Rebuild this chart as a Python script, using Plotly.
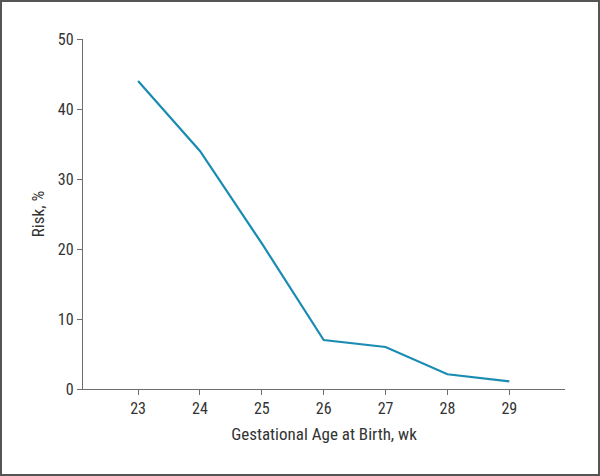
import plotly.graph_objects as go

weeks = [23, 24, 25, 26, 27, 28, 29]
risk = [44, 34, 20.8, 7, 6, 2.1, 1.1]
y_ticks = [0, 10, 20, 30, 40, 50]

W, H = 600, 476
L, R, T, B = 83, 35, 39, 87
pw, ph = W - L - R, H - T - B

font_family = "Liberation Sans Narrow, Roboto Condensed, Arial Narrow, sans-serif"

fig = go.Figure()
fig.add_trace(go.Scatter(x=weeks, y=risk, mode="lines",
                         line=dict(color="#1a8cb3", width=2.2),
                         showlegend=False, hoverinfo="skip"))

axis_common = dict(showgrid=False, zeroline=False, showline=True,
                   linecolor="#6e6e6e", linewidth=1.3,
                   ticks="outside", ticklen=5, tickcolor="#6e6e6e", tickwidth=1.3,
                   tickfont=dict(size=16, color="#333333", family=font_family))

fig.update_layout(
    width=W, height=H,
    margin=dict(l=L, r=R, t=T, b=B),
    paper_bgcolor="white", plot_bgcolor="white",
    font=dict(family=font_family, color="#333333"),
    xaxis=dict(range=[22.11, 29.9], tickvals=weeks,
               title=dict(text="Gestational Age at Birth, wk", font=dict(size=17, color="#333333"), standoff=10),
               **axis_common),
    yaxis=dict(range=[0, 50], tickvals=y_ticks,
               title=dict(text="Risk, %", font=dict(size=17, color="#333333"), standoff=8),
               **axis_common),
)

# outer border around the whole figure
fig.add_shape(type="rect", xref="paper", yref="paper",
              x0=(1 - L) / pw, x1=(W - 1 - L) / pw,
              y0=-(H - 1 - T - ph) / ph, y1=(ph + T - 1) / ph,
              line=dict(color="#555555", width=2), fillcolor="rgba(0,0,0,0)", layer="above")

fig.write_html("out.html", config={"displayModeBar": False},
               post_script="document.body.style.margin='0';document.body.style.padding='0';")
